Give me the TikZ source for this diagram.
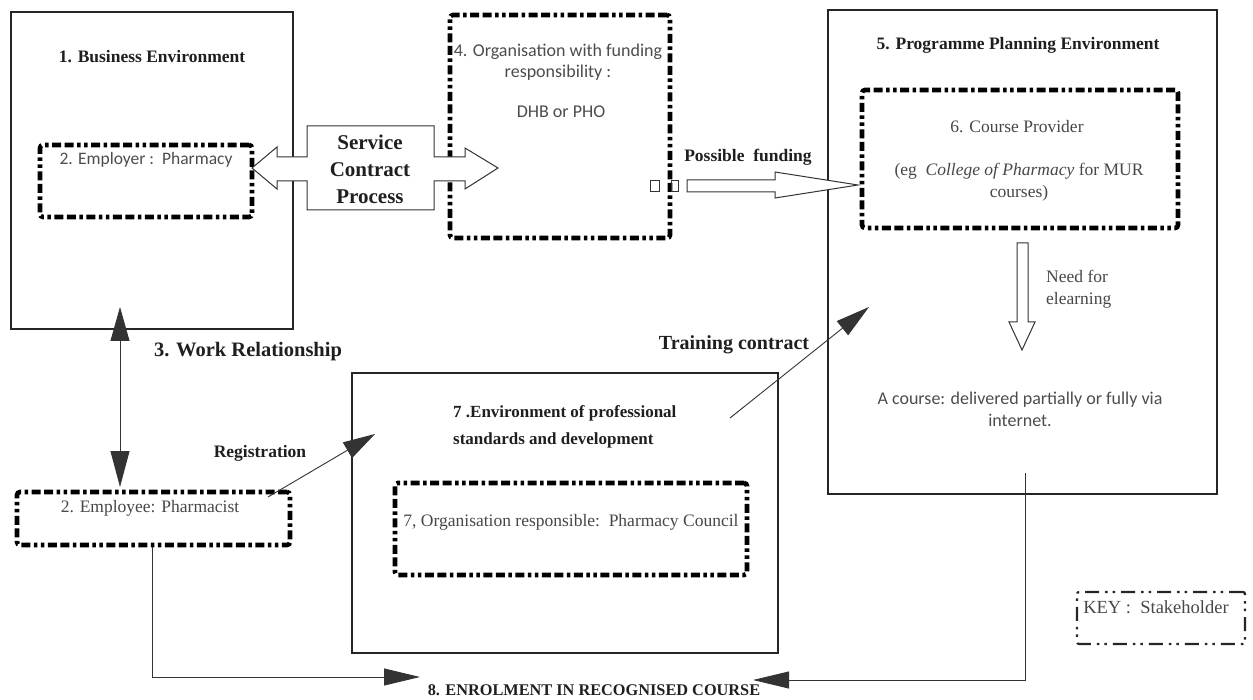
\documentclass[tikz,border=0pt]{standalone}
\usepackage{fontspec}
\setmainfont{Liberation Serif}
\newfontfamily\serifr{Liberation Serif}
\newfontfamily\calib{Carlito}
\usetikzlibrary{arrows.meta}
\tikzset{
  stake/.style={draw=black, line width=4.6pt, rounded corners=3pt,
    dash pattern=on 9pt off 3.5pt on 9pt off 3.5pt on 3.5pt off 3.5pt on 9pt off 3.5pt on 3.5pt off 3.5pt on 3.5pt off 3.5pt, inner sep=0pt},
  envbox/.style={draw=black!85, line width=2.6pt, inner sep=0pt},
  blbl/.style={font=\serifr\fontsize{17.5}{22}\selectfont\bfseries, text=black!88, inner sep=0pt, align=center},
  slbl/.style={font=\calib\fontsize{17.5}{21}\selectfont, text=black!70, inner sep=0pt, align=center},
  rlbl/.style={font=\serifr\fontsize{17.5}{22}\selectfont, text=black!72, inner sep=0pt, align=center},
  conn/.style={draw=black!80, line width=0.9pt},
  hollow/.style={draw=black!80, line width=1pt, fill=white, line join=miter}
}
\begin{document}
\begin{tikzpicture}[x=1pt,y=-1pt]
\useasboundingbox (0,0) rectangle (1253,700);
% environments
\node[envbox, minimum width=282pt, minimum height=317pt] (box1) at (152,170.5) {};
\node[envbox, minimum width=389pt, minimum height=484pt] (box5) at (1022.5,252) {};
\node[envbox, minimum width=426pt, minimum height=280pt] (box7) at (565,513) {};
% stakeholders
\node[stake, minimum width=212pt, minimum height=72pt] (employer) at (146,181) {};
\node[stake, minimum width=220pt, minimum height=223pt] (org4) at (560,126.5) {};
\node[stake, minimum width=316pt, minimum height=138pt] (prov) at (1020,159) {};
\node[stake, minimum width=352pt, minimum height=92pt] (council) at (571,529) {};
\node[stake, minimum width=273pt, minimum height=53pt] (employee) at (153.5,518.5) {};
\node[draw=black!85, line width=2.2pt, rounded corners=2pt, inner sep=0pt,
  dash pattern=on 14pt off 6pt on 2.5pt off 5pt on 2.5pt off 6pt,
  minimum width=168pt, minimum height=52pt] (key) at (1161,618) {};
% labels
\node[blbl] (t1) at (152,57) {1. Business Environment};
\node[slbl] (t2) at (146,160) {2. Employer :\ \ Pharmacy};
\node[slbl, font=\calib\fontsize{18}{21}\selectfont] (t4) at (558,62) {4. Organisation with funding\\responsibility :};
\node[slbl, font=\calib\fontsize{18}{21}\selectfont] (t4b) at (561,112) {DHB or PHO};
\node[blbl] (tpf) at (748,157) {Possible\ \ funding};
\node[blbl] (t5) at (1018,45) {5. Programme Planning Environment};
\node[rlbl] (t6) at (1017,127) {6. Course Provider};
\node[rlbl] (t6b) at (1019,182) {(eg\ \ \textit{College of Pharmacy} for MUR\\courses)};
\node[rlbl, align=left, anchor=west] (need) at (1046,289) {Need for\\elearning};
\node[slbl, font=\calib\fontsize{18}{22}\selectfont] (course) at (1020,409) {A course: delivered partially or fully via\\internet.};
\node[blbl, font=\serifr\fontsize{20.5}{24}\selectfont\bfseries] (wr) at (248,352) {3. Work Relationship};
\node[blbl, font=\serifr\fontsize{20}{24}\selectfont\bfseries] (tc) at (734,345) {Training contract};
\node[blbl] (reg) at (260,453) {Registration};
\node[blbl, align=left, anchor=west, font=\serifr\fontsize{17}{27}\selectfont\bfseries] (t7) at (453,426.5) {7 .Environment of professional\\standards and development};
\node[rlbl] (t7b) at (571,522) {7, Organisation responsible:\ \ Pharmacy Council};
\node[rlbl] (temp) at (150,508) {2. Employee: Pharmacist};
\node[blbl, font=\serifr\fontsize{16.3}{20}\selectfont\bfseries] (enrol) at (594,690) {8. ENROLMENT IN RECOGNISED COURSE};
\node[rlbl, font=\serifr\fontsize{18.5}{22}\selectfont] (tkey) at (1156,607) {KEY :\ \ Stakeholder};
% service contract process double arrow
\draw[hollow] (252,168) -- (277,147) -- (277,157) -- (307,157) -- (307,126) -- (434,126) -- (434,157)
  -- (465,157) -- (465,148) -- (498,168) -- (465,189) -- (465,181) -- (434,181) -- (434,210)
  -- (307,210) -- (307,181) -- (277,181) -- (277,189) -- cycle;
\node[blbl, font=\serifr\fontsize{21}{27}\selectfont\bfseries] (scp) at (370,169) {Service\\Contract\\Process};
% small squares
\node[draw=black!80, line width=1pt, minimum width=9pt, minimum height=11pt, inner sep=0pt] (sq1) at (655,186) {};
\node[draw=black!80, line width=1pt, minimum width=7pt, minimum height=11pt, inner sep=0pt] (sq2) at (675,186) {};
% possible funding arrow
\draw[hollow] (687,180) -- (775,180) -- (775,172) -- (858,185) -- (775,198) -- (775,192) -- (687,192) -- cycle;
% need for elearning arrow
\draw[hollow] (1017,243) -- (1028,243) -- (1028,322) -- (1035,322) -- (1022,350) -- (1009,322) -- (1017,322) -- cycle;
% connectors
\coordinate (wrT) at (120,307);
\coordinate (wrB) at (120,487);
\draw[conn, {Triangle[length=34pt,width=19pt]}-{Triangle[length=36pt,width=19pt]}] (wrT) -- (wrB);
\coordinate (regS) at (268,497);
\coordinate (regE) at (375,434);
\draw[conn, -{Triangle[length=32pt,width=18pt]}] (regS) -- (regE);
\coordinate (tcS) at (730,418);
\coordinate (tcE) at (869,307);
\draw[conn, -{Triangle[length=34pt,width=18pt]}] (tcS) -- (tcE);
\coordinate (enL) at (420,677);
\coordinate (enR) at (753,680);
\coordinate (crs) at (1025,473);
\draw[conn, -{Triangle[length=36pt,width=17pt]}] (employee.south -| 152,0) |- (enL);
\draw[conn, -{Triangle[length=36pt,width=17pt]}] (crs) |- (enR);
\end{tikzpicture}
\end{document}
